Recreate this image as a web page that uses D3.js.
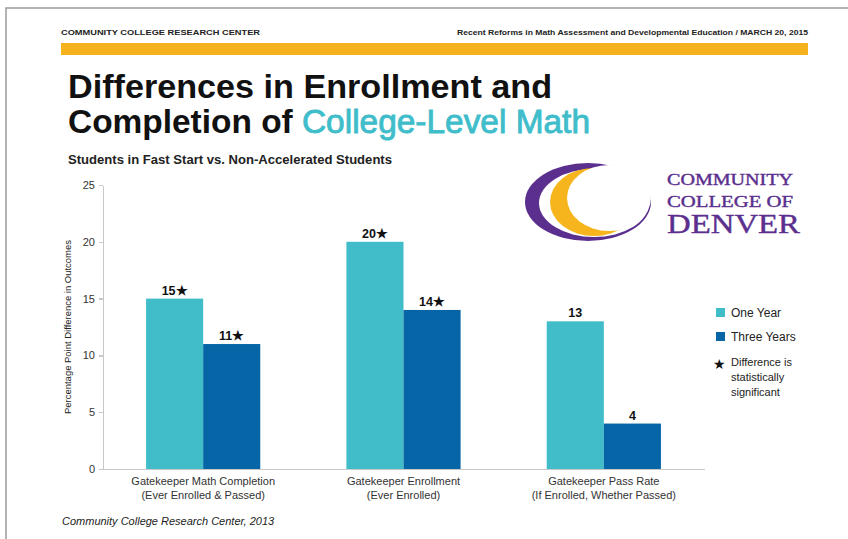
<!DOCTYPE html>
<html lang="en">
  <head>
    <meta charset="UTF-8" />
    <title>Differences in Enrollment and Completion of College-Level Math</title>
    <style>
      body { margin: 0; background: #fff; }
      svg { display: block; font-family: "Liberation Sans", Arial, sans-serif; }
      .axis path, .axis line { fill: none; stroke: #c8c8c8; stroke-width: 1.5; shape-rendering: crispEdges; }
      .axis text { font-size: 11px; fill: #333; }
    </style>
    <script src="https://cdn.jsdelivr.net/npm/d3@7"></script>
  </head>
  <body>
    <svg width="848" height="539"></svg>
    <script>
      // data
      var categories = ['Gatekeeper Math Completion', 'Gatekeeper Enrollment', 'Gatekeeper Pass Rate']
      var categorySub = ['(Ever Enrolled & Passed)', '(Ever Enrolled)', '(If Enrolled, Whether Passed)']
      var seriesNames = ['One Year', 'Three Years']
      var oneYear = [15, 20, 13]
      var threeYears = [11, 14, 4]
      var oneYearSig = [true, true, false]
      var threeYearsSig = [true, true, false]
      var yTicks = [0, 5, 10, 15, 20, 25]

      var colors = ['#41bdc9', '#0565a6']
      var svg = d3.select('svg')

      // page frame + header
      svg.append('path').attr('d', 'M6,539V8H848').attr('fill', 'none').attr('stroke', '#9a9a9a').attr('stroke-width', 1.5)
      svg.append('text').attr('x', 61).attr('y', 35).attr('font-size', 7.2).attr('font-weight', 'bold').attr('fill', '#222')
        .attr('textLength', 199).attr('lengthAdjust', 'spacingAndGlyphs')
        .text('COMMUNITY COLLEGE RESEARCH CENTER')
      svg.append('text').attr('x', 808).attr('y', 35).attr('font-size', 7.2).attr('font-weight', 'bold').attr('fill', '#222')
        .attr('text-anchor', 'end').attr('textLength', 351).attr('lengthAdjust', 'spacingAndGlyphs')
        .text('Recent Reforms in Math Assessment and  Developmental Education / MARCH 20, 2015')
      svg.append('rect').attr('x', 61).attr('y', 43).attr('width', 747).attr('height', 12).attr('fill', '#f6b21c')

      // title
      svg.append('text').attr('x', 68).attr('y', 98).attr('font-size', 34).attr('font-weight', 'bold').attr('fill', '#111')
        .attr('textLength', 484).attr('lengthAdjust', 'spacingAndGlyphs')
        .text('Differences in Enrollment and')
      var t2 = svg.append('text').attr('x', 68).attr('y', 133).attr('font-size', 34).attr('font-weight', 'bold').attr('fill', '#111')
        .attr('textLength', 522).attr('lengthAdjust', 'spacingAndGlyphs')
      t2.append('tspan').text('Completion of ')
      t2.append('tspan').attr('fill', '#3fbdca').attr('font-weight', 'normal')
        .attr('stroke', '#3fbdca').attr('stroke-width', 0.9).text('College-Level Math')

      svg.append('text').attr('x', 68).attr('y', 164).attr('font-size', 12).attr('font-weight', 'bold').attr('fill', '#222')
        .attr('textLength', 324).attr('lengthAdjust', 'spacingAndGlyphs')
        .text('Students in Fast Start vs. Non-Accelerated Students')

      // logo
      var logo = svg.append('g')
      var purple = '#5b2f8e'
      logo.append('ellipse').attr('cx', 588).attr('cy', 202).attr('rx', 63).attr('ry', 39).attr('fill', purple)
      logo.append('ellipse').attr('cx', 594).attr('cy', 203).attr('rx', 55).attr('ry', 34).attr('fill', '#fff')
      logo.append('ellipse').attr('cx', 594).attr('cy', 202).attr('rx', 44).attr('ry', 34).attr('fill', '#f6b51c')
      logo.append('ellipse').attr('cx', 609).attr('cy', 198).attr('rx', 42).attr('ry', 33).attr('fill', '#fff')
      var logoText = [['COMMUNITY', 185, 16, 126], ['COLLEGE OF', 207, 16, 126], ['DENVER', 233, 27, 133]]
      logoText.forEach(function(d) {
        logo.append('text').attr('x', 667).attr('y', d[1]).attr('font-size', d[2])
          .attr('font-family', '"Liberation Serif", "DejaVu Serif", serif').attr('fill', purple)
          .attr('stroke', purple).attr('stroke-width', 0.4)
          .attr('textLength', d[3]).attr('lengthAdjust', 'spacingAndGlyphs').text(d[0])
      })

      // chart
      var plotLeft = 103, plotRight = 704, plotTop = 185, plotBottom = 469
      var y = d3.scaleLinear().domain([0, 25]).range([plotBottom, plotTop])
      var x0 = d3.scaleBand().domain(categories).range([plotLeft, plotRight]).paddingInner(0.43).paddingOuter(0.215)
      var x1 = d3.scaleBand().domain(seriesNames).range([0, x0.bandwidth()])

      var rows = categories.map(function(c, i) {
        return [
          { cat: c, name: seriesNames[0], value: oneYear[i], sig: oneYearSig[i] },
          { cat: c, name: seriesNames[1], value: threeYears[i], sig: threeYearsSig[i] }
        ]
      })

      var yAxis = d3.axisLeft(y).tickValues(yTicks).tickSize(4).tickSizeOuter(0).tickPadding(4)
      svg.append('g').attr('class', 'axis').attr('transform', 'translate(' + plotLeft + ',0)').call(yAxis)

      var xAxis = d3.axisBottom(x0).tickSize(0).tickSizeOuter(0).tickFormat('')
      var xg = svg.append('g').attr('class', 'axis').attr('transform', 'translate(0,' + plotBottom + ')').call(xAxis)
      xg.selectAll('.tick').append('text').attr('fill', '#333').attr('text-anchor', 'middle')
        .each(function(d, i) {
          var t = d3.select(this)
          t.append('tspan').attr('x', 0).attr('y', 16).text(categories[i])
          t.append('tspan').attr('x', 0).attr('y', 30).text(categorySub[i])
        })

      var groups = svg.append('g').selectAll('g').data(rows).enter().append('g')
        .attr('transform', function(d, i) { return 'translate(' + x0(categories[i]) + ',0)' })

      groups.selectAll('rect').data(function(d) { return d }).enter().append('rect')
        .attr('x', function(d) { return x1(d.name) })
        .attr('y', function(d) { return y(d.value) })
        .attr('width', x1.bandwidth())
        .attr('height', function(d) { return plotBottom - y(d.value) })
        .attr('fill', function(d, i) { return colors[i] })

      groups.selectAll('text').data(function(d) { return d }).enter().append('text')
        .attr('x', function(d) { return x1(d.name) + x1.bandwidth() / 2 })
        .attr('y', function(d) { return y(d.value) - 4 })
        .attr('text-anchor', 'middle').attr('font-size', 12.5).attr('font-weight', 'bold').attr('fill', '#111')
        .text(function(d) { return d.value + (d.sig ? '\u2605' : '') })

      svg.append('text').attr('transform', 'translate(71,' + (plotTop + plotBottom) / 2 + ') rotate(-90)')
        .attr('text-anchor', 'middle').attr('font-size', 9.5).attr('fill', '#222')
        .attr('textLength', 174).attr('lengthAdjust', 'spacingAndGlyphs')
        .text('Percentage Point Difference in Outcomes')

      // legend
      var legend = svg.append('g').attr('transform', 'translate(716,308)')
      seriesNames.forEach(function(n, i) {
        legend.append('rect').attr('x', 0).attr('y', i * 24).attr('width', 9).attr('height', 9).attr('fill', colors[i])
        legend.append('text').attr('x', 15).attr('y', i * 24 + 9).attr('font-size', 12).attr('fill', '#222').text(n)
      })
      legend.append('text').attr('x', 3).attr('y', 61).attr('text-anchor', 'middle').attr('font-size', 14).attr('fill', '#111').text('\u2605')
      ;['Difference is', 'statistically', 'significant'].forEach(function(s, i) {
        legend.append('text').attr('x', 15).attr('y', 58 + i * 15).attr('font-size', 11).attr('fill', '#222').text(s)
      })

      // source
      svg.append('text').attr('x', 62).attr('y', 525).attr('font-size', 11).attr('font-style', 'italic').attr('fill', '#222')
        .text('Community College Research Center, 2013')
    </script>
  </body>
</html>
